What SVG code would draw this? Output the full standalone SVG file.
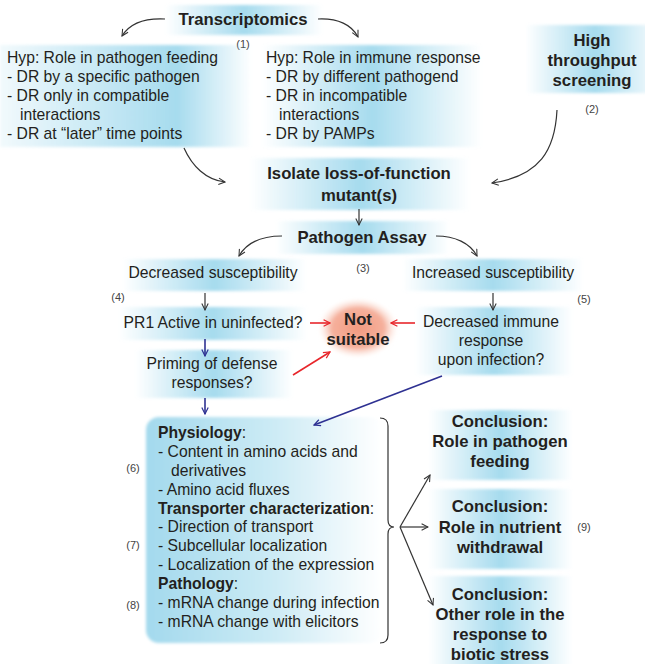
<svg xmlns="http://www.w3.org/2000/svg" width="645" height="664" viewBox="0 0 645 664">
<defs>
<linearGradient id="gb" x1="0" y1="0" x2="1" y2="0">
<stop offset="0" stop-color="#a6dbee" stop-opacity="0"/>
<stop offset="0.5" stop-color="#a6dbee" stop-opacity="1"/>
<stop offset="1" stop-color="#a6dbee" stop-opacity="0"/>
</linearGradient>
<linearGradient id="gbl" x1="0" y1="0" x2="1" y2="0">
<stop offset="0" stop-color="#a6dbee" stop-opacity="0.15"/>
<stop offset="0.7" stop-color="#a6dbee" stop-opacity="1"/>
<stop offset="1" stop-color="#a6dbee" stop-opacity="0"/>
</linearGradient>
<linearGradient id="gbox" x1="0" y1="0" x2="1" y2="0">
<stop offset="0" stop-color="#a3d9ed"/>
<stop offset="0.55" stop-color="#cdebf5"/>
<stop offset="1" stop-color="#ffffff"/>
</linearGradient>
<radialGradient id="gr" cx="0.5" cy="0.5" r="0.5">
<stop offset="0" stop-color="#f29a80"/>
<stop offset="0.65" stop-color="#f5b09c"/>
<stop offset="1" stop-color="#fde5dc" stop-opacity="0"/>
</radialGradient>
<filter id="soft" x="-10%" y="-20%" width="120%" height="140%"><feGaussianBlur stdDeviation="1.8"/></filter>
<filter id="soft2" x="-10%" y="-10%" width="120%" height="120%"><feGaussianBlur stdDeviation="1.5"/></filter>
<marker id="ah" viewBox="0 0 10 10" refX="9" refY="5" markerWidth="8" markerHeight="8" markerUnits="userSpaceOnUse" orient="auto">
<path d="M1,1 L9,5 L1,9" fill="none" stroke="#333" stroke-width="1.3"/>
</marker>
<marker id="ahb" viewBox="0 0 10 10" refX="9" refY="5" markerWidth="8" markerHeight="8" markerUnits="userSpaceOnUse" orient="auto">
<path d="M1,1 L9,5 L1,9" fill="none" stroke="#2e3192" stroke-width="1.5"/>
</marker>
<marker id="ahr" viewBox="0 0 10 10" refX="9" refY="5" markerWidth="8" markerHeight="8" markerUnits="userSpaceOnUse" orient="auto">
<path d="M1,1 L9,5 L1,9" fill="none" stroke="#e8262b" stroke-width="1.5"/>
</marker>
</defs>
<style>
text{font-family:"Liberation Sans",Arial,sans-serif;fill:#231f20}
.t{font-size:15.7px}
.b{font-size:16.7px;font-weight:bold}
.bb{font-weight:bold}
.n{font-size:11px;fill:#444}
.m{text-anchor:middle}
.glow{fill:url(#gb);filter:url(#soft)}
.c{fill:none;stroke:#333;stroke-width:1.2;marker-end:url(#ah)}
.cb{fill:none;stroke:#2e3192;stroke-width:1.6;marker-end:url(#ahb)}
.cr{fill:none;stroke:#e8262b;stroke-width:1.6;marker-end:url(#ahr)}
</style>
<rect width="645" height="664" fill="#fff"/>

<g id="transcriptomics">
<rect class="glow" x="165" y="5" width="158" height="30"/>
<text class="b m" x="243" y="25">Transcriptomics</text>
<text class="n m" x="243" y="48">(1)</text>
</g>
<g id="hyp-feeding">
<rect x="0" y="45" width="252" height="102" fill="url(#gbl)" filter="url(#soft)"/>
<text class="t" x="7" y="63">Hyp: Role in pathogen feeding</text>
<text class="t" x="7" y="82">- DR by a specific pathogen</text>
<text class="t" x="7" y="101">- DR only in compatible</text>
<text class="t" x="20" y="120">interactions</text>
<text class="t" x="7" y="139">- DR at “later” time points</text>
</g>
<g id="hyp-immune">
<rect class="glow" x="262" y="45" width="220" height="102"/>
<text class="t" x="266" y="63">Hyp: Role in immune response</text>
<text class="t" x="266" y="82">- DR by different pathogend</text>
<text class="t" x="266" y="101">- DR in incompatible</text>
<text class="t" x="279" y="120">interactions</text>
<text class="t" x="266" y="139">- DR by PAMPs</text>
</g>
<g id="hts">
<rect class="glow" x="525" y="25" width="140" height="68"/>
<text class="b m" x="592" y="46">High</text>
<text class="b m" x="592" y="66">throughput</text>
<text class="b m" x="592" y="86">screening</text>
<text class="n m" x="592" y="113">(2)</text>
</g>
<g id="isolate">
<rect class="glow" x="250" y="158" width="220" height="52"/>
<text class="b m" x="359" y="179">Isolate loss-of-function</text>
<text class="b m" x="359" y="201">mutant(s)</text>
</g>
<g id="pathogen-assay">
<rect class="glow" x="275" y="221" width="175" height="33"/>
<text class="b m" x="362" y="243">Pathogen Assay</text>
<text class="n m" x="363" y="272">(3)</text>
</g>
<g id="decreased">
<rect class="glow" x="122" y="259" width="185" height="32"/>
<text class="t m" x="213" y="278">Decreased susceptibility</text>
<text class="n m" x="118" y="301">(4)</text>
</g>
<g id="increased">
<rect class="glow" x="402" y="259" width="182" height="32"/>
<text class="t m" x="493" y="278">Increased susceptibility</text>
<text class="n m" x="584" y="303">(5)</text>
</g>
<g id="pr1">
<rect class="glow" x="118" y="307" width="190" height="33"/>
<text class="t m" x="213" y="328">PR1 Active in uninfected?</text>
</g>
<g id="priming">
<rect class="glow" x="135" y="350" width="158" height="48"/>
<text class="t m" x="212" y="369">Priming of defense</text>
<text class="t m" x="212" y="388">responses?</text>
</g>
<g id="not-suitable">
<rect x="318" y="298" width="80" height="60" rx="22" fill="url(#gr)" filter="url(#soft2)"/>
<text class="b m" x="358" y="325">Not</text>
<text class="b m" x="358" y="345">suitable</text>
</g>
<g id="decreased-immune">
<rect class="glow" x="415" y="307" width="158" height="68"/>
<text class="t m" x="491" y="327">Decreased immune</text>
<text class="t m" x="491" y="346">response</text>
<text class="t m" x="491" y="365">upon infection?</text>
</g>
<g id="analysis">
<rect x="146" y="417" width="236" height="226" rx="13" fill="url(#gbox)" filter="url(#soft2)"/>
<text class="t" x="158" y="438"><tspan class="bb">Physiology</tspan>:</text>
<text class="t" x="158" y="457">- Content in amino acids and</text>
<text class="t" x="171" y="476">derivatives</text>
<text class="t" x="158" y="495">- Amino acid fluxes</text>
<text class="t" x="158" y="514"><tspan class="bb">Transporter characterization</tspan>:</text>
<text class="t" x="158" y="532">- Direction of transport</text>
<text class="t" x="158" y="551">- Subcellular localization</text>
<text class="t" x="158" y="570">- Localization of the expression</text>
<text class="t" x="158" y="589"><tspan class="bb">Pathology</tspan>:</text>
<text class="t" x="158" y="608">- mRNA change during infection</text>
<text class="t" x="158" y="627">- mRNA change with elicitors</text>
<text class="n m" x="133" y="472">(6)</text>
<text class="n m" x="133" y="549">(7)</text>
<text class="n m" x="133" y="609">(8)</text>
</g>
<g id="conclusion-feeding">
<rect class="glow" x="428" y="410" width="145" height="70"/>
<text class="b m" x="500" y="427">Conclusion:</text>
<text class="b m" x="500" y="447">Role in pathogen</text>
<text class="b m" x="500" y="467">feeding</text>
</g>
<g id="conclusion-withdrawal">
<rect class="glow" x="428" y="489" width="145" height="80"/>
<text class="b m" x="500" y="512">Conclusion:</text>
<text class="b m" x="500" y="533">Role in nutrient</text>
<text class="b m" x="500" y="553">withdrawal</text>
<text class="n m" x="584" y="531">(9)</text>
</g>
<g id="conclusion-other">
<rect class="glow" x="428" y="576" width="145" height="92"/>
<text class="b m" x="500" y="600">Conclusion:</text>
<text class="b m" x="500" y="620">Other role in the</text>
<text class="b m" x="500" y="640">response to</text>
<text class="b m" x="500" y="660">biotic stress</text>
</g>

<g id="connectors">
<path class="c" d="M165,19 C145,18 130,23 122,36"/>
<path class="c" d="M318,19 C338,18 352,25 358,37"/>
<path class="c" d="M184,148 C192,166 206,180 225,182"/>
<path class="c" d="M557,110 C555,150 540,176 492,183"/>
<path class="c" d="M359,209 L359,225"/>
<path class="c" d="M282,236 C262,236 247,242 239,256"/>
<path class="c" d="M436,236 C455,236 470,243 477,256"/>
<path class="c" d="M205,293 L205,310"/>
<path class="c" d="M493,293 L493,310"/>
<path class="cr" d="M310,323 L330,323"/>
<path class="cr" d="M415,323 L391,323"/>
<path class="cr" d="M293,375 L330,352"/>
<path class="cb" d="M205,339 L205,356"/>
<path class="cb" d="M205,398 L205,414"/>
<path class="cb" d="M442,376 L314,425"/>
<path d="M380,418 Q388,418 388,426 L388,520 Q388,527 394,527 Q388,527 388,534 L388,635 Q388,643 380,643" fill="none" stroke="#333" stroke-width="1.2"/>
<path class="c" d="M400,527 L430,475"/>
<path class="c" d="M400,527 L428,527"/>
<path class="c" d="M400,527 L433,605"/>
</g>
</svg>
